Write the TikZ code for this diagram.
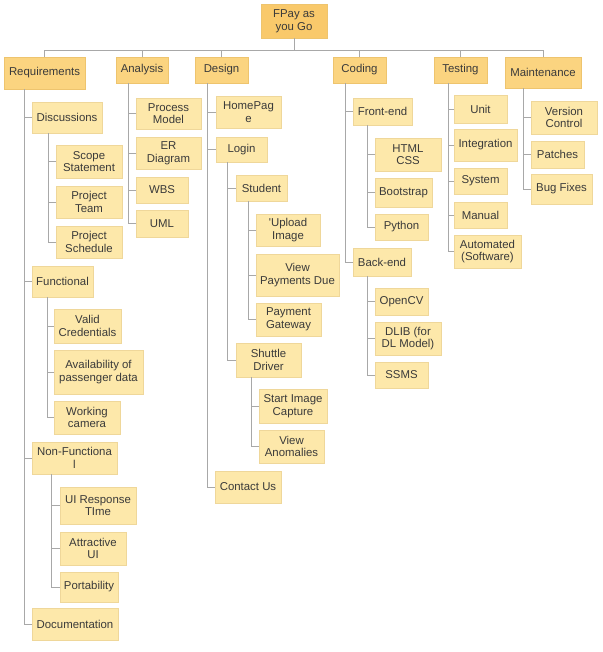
\documentclass[tikz,border=0pt]{standalone}
\usepackage{fontspec}
\setmainfont{Liberation Sans}
\definecolor{rootfill}{HTML}{F9C96B}
\definecolor{lonefill}{HTML}{FBD480}
\definecolor{kidfill}{HTML}{FDE8AA}
\definecolor{kidedge}{HTML}{EFD79A}
\definecolor{oneedge}{HTML}{EEC46E}
\definecolor{linegray}{HTML}{A8A8A8}
\definecolor{txt}{HTML}{3A3A3A}
\tikzset{
  base/.style={inner sep=0pt, align=center, text=txt,
    font=\fontsize{11.4}{12.7}\selectfont},
  rootbox/.style={base, fill=rootfill, draw=oneedge, line width=0.4pt},
  onebox/.style={base, fill=lonefill, draw=oneedge, line width=0.4pt},
  kidbox/.style={base, fill=kidfill, draw=kidedge, line width=0.4pt},
  wire/.style={draw=linegray, line width=0.8pt},
}
% \bx{style}{name}{x1}{y1}{x2}{y2}{text}
\newcommand{\bx}[7]{%
  \pgfmathsetmacro{\cxv}{(#3+#5)/2}%
  \pgfmathsetmacro{\cyv}{(#4+#6)/2}%
  \pgfmathsetmacro{\wv}{#5-#3}%
  \pgfmathsetmacro{\hv}{#6-#4}%
  \node[#1, minimum width=\wv pt, minimum height=\hv pt] (#2) at (\cxv,\cyv) {#7};}
\begin{document}
\begin{tikzpicture}[x=1pt,y=-1pt]
\useasboundingbox (0,0) rectangle (602,652);
\fill[white] (0,0) rectangle (602,652);

% root and level 1
\bx{rootbox}{root}{261}{4}{327}{38}{FPay as\\you Go}
\bx{onebox}{req}{4}{57}{85}{89}{Requirements}
\bx{onebox}{ana}{116}{57}{168}{83}{Analysis}
\bx{onebox}{des}{195}{57}{248}{83}{Design}
\bx{onebox}{cod}{333}{57}{386}{83}{Coding}
\bx{onebox}{tes}{434}{57}{487}{83}{Testing}
\bx{onebox}{mai}{505}{57}{581}{88}{Maintenance}

% Requirements
\bx{kidbox}{disc}{32}{102}{102}{133}{Discussions}
\bx{kidbox}{scope}{56}{145}{122}{178}{Scope\\Statement}
\bx{kidbox}{team}{56}{186}{122}{218}{Project\\Team}
\bx{kidbox}{sched}{56}{226}{122}{258}{Project\\Schedule}
\bx{kidbox}{func}{32}{266}{93}{297}{Functional}
\bx{kidbox}{valid}{54}{309}{121}{343}{Valid\\Credentials}
\bx{kidbox}{avail}{54}{350}{143}{394}{Availability of\\passenger data}
\bx{kidbox}{cam}{54}{401}{120}{434}{Working\\camera}
\bx{kidbox}{nonf}{32}{442}{117}{474}{Non-Functiona\\l}
\bx{kidbox}{uirt}{60}{487}{136}{524}{UI Response\\TIme}
\bx{kidbox}{attr}{60}{532}{126}{565}{Attractive\\UI}
\bx{kidbox}{port}{60}{572}{118}{602}{Portability}
\bx{kidbox}{docu}{32}{608}{118}{640}{Documentation}

% Analysis
\bx{kidbox}{proc}{136}{98}{201}{129}{Process\\Model}
\bx{kidbox}{erd}{136}{137}{201}{169}{ER\\Diagram}
\bx{kidbox}{wbs}{136}{177}{188}{203}{WBS}
\bx{kidbox}{uml}{136}{210}{188}{237}{UML}

% Design
\bx{kidbox}{home}{216}{96}{281}{128}{HomePag\\e}
\bx{kidbox}{login}{216}{137}{267}{162}{Login}
\bx{kidbox}{stud}{236}{175}{287}{201}{Student}
\bx{kidbox}{upl}{256}{214}{320}{246}{\textquotesingle Upload\\Image}
\bx{kidbox}{vpd}{256}{254}{339}{296}{View\\Payments Due}
\bx{kidbox}{pgw}{256}{303}{321}{336}{Payment\\Gateway}
\bx{kidbox}{shut}{236}{343}{301}{377}{Shuttle\\Driver}
\bx{kidbox}{sic}{259}{389}{327}{423}{Start Image\\Capture}
\bx{kidbox}{van}{259}{430}{324}{463}{View\\Anomalies}
\bx{kidbox}{cont}{215}{471}{281}{503}{Contact Us}

% Coding
\bx{kidbox}{front}{353}{98}{412}{125}{Front-end}
\bx{kidbox}{html}{375}{138}{441}{171}{HTML\\CSS}
\bx{kidbox}{boot}{375}{178}{432}{207}{Bootstrap}
\bx{kidbox}{pyth}{375}{214}{428}{240}{Python}
\bx{kidbox}{back}{353}{248}{411}{276}{Back-end}
\bx{kidbox}{ocv}{375}{288}{428}{315}{OpenCV}
\bx{kidbox}{dlib}{375}{322}{441}{355}{DLIB (for\\DL Model)}
\bx{kidbox}{ssms}{375}{362}{428}{388}{SSMS}

% Testing
\bx{kidbox}{unit}{454}{95}{507}{123}{Unit}
\bx{kidbox}{integ}{454}{129}{517}{161}{Integration}
\bx{kidbox}{syst}{454}{168}{507}{194}{System}
\bx{kidbox}{manu}{454}{202}{507}{228}{Manual}
\bx{kidbox}{auto}{454}{235}{521}{268}{Automated\\(Software)}

% Maintenance
\bx{kidbox}{verc}{531}{101}{597}{134}{Version\\Control}
\bx{kidbox}{patch}{531}{141}{584}{168}{Patches}
\bx{kidbox}{bugf}{531}{174}{592}{204}{Bug Fixes}

% connectors
\begin{scope}[on background layer/.style={}]
\coordinate (bus) at (294,50);
\draw[wire] (root.south) -- (bus);
\foreach \n in {req,ana,des,cod,tes,mai} \draw[wire] (bus) -| (\n.north);

\foreach \n in {disc,func,nonf,docu} \draw[wire] ([xshift=21pt]req.south west) |- (\n.west);
\foreach \n in {scope,team,sched} \draw[wire] ([xshift=17pt]disc.south west) |- (\n.west);
\foreach \n in {valid,avail,cam} \draw[wire] ([xshift=16pt]func.south west) |- (\n.west);
\foreach \n in {uirt,attr,port} \draw[wire] ([xshift=20pt]nonf.south west) |- (\n.west);

\foreach \n in {proc,erd,wbs,uml} \draw[wire] ([xshift=13pt]ana.south west) |- (\n.west);

\foreach \n in {home,login,cont} \draw[wire] ([xshift=13pt]des.south west) |- (\n.west);
\foreach \n in {stud,shut} \draw[wire] ([xshift=12pt]login.south west) |- (\n.west);
\foreach \n in {upl,vpd,pgw} \draw[wire] ([xshift=13pt]stud.south west) |- (\n.west);
\foreach \n in {sic,van} \draw[wire] ([xshift=16pt]shut.south west) |- (\n.west);

\foreach \n in {front,back} \draw[wire] ([xshift=13pt]cod.south west) |- (\n.west);
\foreach \n in {html,boot,pyth} \draw[wire] ([xshift=15pt]front.south west) |- (\n.west);
\foreach \n in {ocv,dlib,ssms} \draw[wire] ([xshift=15pt]back.south west) |- (\n.west);

\foreach \n in {unit,integ,syst,manu,auto} \draw[wire] ([xshift=15pt]tes.south west) |- (\n.west);
\foreach \n in {verc,patch,bugf} \draw[wire] ([xshift=19pt]mai.south west) |- (\n.west);
\end{scope}
\end{tikzpicture}
\end{document}
